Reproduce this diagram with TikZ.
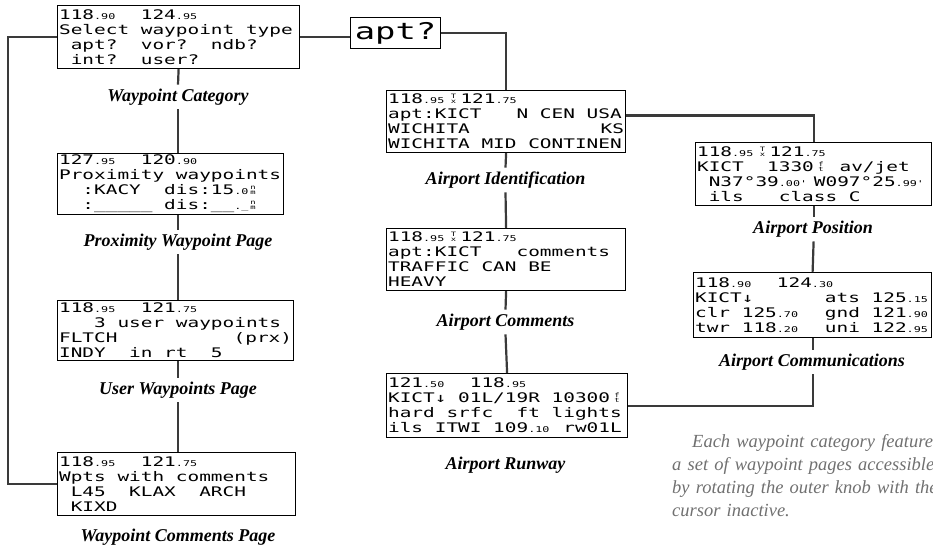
\documentclass[tikz,border=0pt]{standalone}
\usepackage{fontspec}
\setmainfont{Liberation Serif}
\newfontfamily\lcd[FakeStretch=1.47]{DejaVu Sans Mono}
\newlength\cw
\newcommand\lcdf{\lcd\fontsize{13.2}{15}\selectfont\hyphenchar\font=-1 }
\newcommand\lcdbig{\lcd\fontsize{23}{25}\selectfont}
\newcommand\lsm{\fontsize{8}{8}\selectfont}
\newcommand\sm[2][2]{\makebox[#1\cw][l]{\lsm #2}}
\newcommand\stk[2]{\makebox[1.2\cw][c]{\fontsize{6}{6}\selectfont\rlap{\raisebox{5.2pt}{#1}}#2}}
\newcommand\gp[1]{\leavevmode\kern#1\cw}
\definecolor{linec}{HTML}{3A3A3A}
\definecolor{capc}{HTML}{707070}
\begin{document}
\settowidth{\cw}{\lcdf 0}
\begin{tikzpicture}[x=1pt,y=-1pt,
  lcdbox/.style n args={2}{draw=black, line width=1.2pt, inner xsep=1.5pt, inner ysep=1pt,
    anchor=north west, align=left, text width=#1-3pt, minimum width=#1, minimum height=#2,
    font=\lcdf},
  lbl/.style={font=\bfseries\itshape\fontsize{18}{20}\selectfont, inner sep=4pt},
  conn/.style={draw=linec, line width=2.2pt}]
\useasboundingbox (0,0) rectangle (933,553);

% left column
\node[lcdbox={242pt}{63pt}] (wc) at (57,5) {118\sm{.90}\gp{2}124\sm{.95}\\
Select\gp{1}waypoint\gp{1}type\\
\gp{1}apt?\gp{2}vor?\gp{2}ndb?\\
\gp{1}int?\gp{2}user?};
\node[lbl] (wcl) at (178,97) {Waypoint Category};

\node[lcdbox={226pt}{61pt}] (prox) at (57,153) {127\sm{.95}\gp{2}120\sm{.90}\\
Proximity\gp{1}waypoints\\
\gp{2}:KACY\gp{2}dis:15\sm[1]{.0}\stk{n}{m}\\
\gp{2}:\_\_\_\_\_\gp{1}dis:\_\_\sm[1]{.\_}\stk{n}{m}};
\node[lbl] (proxl) at (178,242) {Proximity Waypoint Page};

\node[lcdbox={236pt}{60pt}] (user) at (57,300) {118\sm{.95}\gp{2}121\sm{.75}\\
\gp{3}3\gp{1}user\gp{1}waypoints\\
FLTCH\hfill(prx)\\
INDY\gp{2}in\gp{1}rt\gp{2}5};
\node[lbl] (userl) at (178,390) {User Waypoints Page};

\node[lcdbox={238pt}{63pt}] (wcp) at (57,452) {118\sm{.95}\gp{2}121\sm{.75}\\
Wpts\gp{1}with\gp{1}comments\\
\gp{1}L45\gp{2}KLAX\gp{2}ARCH\\
\gp{1}KIXD};
\node[lbl] (wcpl) at (178,537) {Waypoint Comments Page};

% apt? box
\node[draw=black, line width=1.2pt, inner xsep=2pt, inner ysep=0pt, minimum width=90pt,
  minimum height=31pt, anchor=west, font=\lcdbig] (apt) at (350,33) {apt?};

% middle column
\node[lcdbox={239pt}{62pt}] (aid) at (386,90) {118\sm{.95}\stk{T}{x}121\sm{.75}\\
apt:KICT\gp{3}N\gp{1}CEN\gp{1}USA\\
WICHITA\hfill KS\\
WICHITA\gp{1}MID\gp{1}CONTINEN};
\node[lbl] (aidl) at (505.5,180) {Airport Identification};

\node[lcdbox={239pt}{62pt}] (acm) at (386,228) {118\sm{.95}\stk{T}{x}121\sm{.75}\\
apt:KICT\gp{3}comments\\
TRAFFIC\gp{1}CAN\gp{1}BE\\
HEAVY};
\node[lbl] (acml) at (505.5,322) {Airport Comments};

\node[lcdbox={241pt}{64pt}] (arw) at (386,373) {121\sm{.50}\gp{2}118\sm{.95}\\
KICT↓\gp{1}01L/19R\gp{1}10300\stk{f}{t}\\
hard\gp{1}srfc\gp{2}ft\gp{1}lights\\
ils\gp{1}ITWI\gp{1}109\sm{.10}\gp{1}rw01L};
\node[lbl] (arwl) at (505.5,465) {Airport Runway};

% right column
\node[lcdbox={236pt}{63pt}] (apos) at (695,142) {118\sm{.95}\stk{T}{x}121\sm{.75}\\
KICT\gp{2}1330\stk{f}{t}\gp{1}av/jet\\
\gp{1}N37°39\sm{.00'}\gp{1}W097°25\sm{.99'}\\
\gp{1}ils\gp{3}class\gp{1}C};
\node[lbl] (aposl) at (813,229) {Airport Position};

\node[lcdbox={238pt}{65pt}] (acomm) at (693,272) {118\sm{.90}\gp{2}124\sm{.30}\\
KICT↓\hfill ats\gp{1}125\sm{.15}\\
clr\gp{1}125\sm{.70}\hfill gnd\gp{1}121\sm{.90}\\
twr\gp{1}118\sm{.20}\hfill uni\gp{1}122\sm{.95}};
\node[lbl] (acomml) at (812,362) {Airport Communications};

% caption
\node[anchor=north west, inner sep=0pt, align=left, text width=330pt, text=capc,
  font=\itshape\fontsize{18.5}{23}\selectfont] (cap) at (672,434)
  {\hspace*{20pt}Each waypoint category features\\
  a set of waypoint pages accessible\\
  by rotating the outer knob with the\\
  cursor inactive.};

% connectors
\coordinate (lx) at (8,0);
\path[conn] (wc.west) -- (wc.west -| lx) |- (wcp.west);
\path[conn] (wc.east) -- (wc.east -| apt.west);
\path[conn] (apt.east) -| (aid.north);
\path[conn] (wc.south) -- (wcl.north);
\path[conn] (wcl.south) -- (prox.north -| wcl.south);
\path[conn] (prox.south -| proxl.north) -- (proxl.north);
\path[conn] (proxl.south) -- (user.north -| proxl.south);
\path[conn] (user.south -| userl.north) -- (userl.north);
\path[conn] (userl.south) -- (wcp.north -| userl.south);
\path[conn] (aid.south) -- (aidl.north);
\path[conn] (aidl.south) -- (acm.north);
\path[conn] (acm.south) -- (acml.north);
\path[conn] (acml.south) -- (arw.north);
\path[conn] ([yshift=6pt]aid.east) -| (apos.north);
\path[conn] (apos.south) -- (apos.south |- aposl.north);
\path[conn] (aposl.south -| apos.south) -- (acomm.north);
\path[conn] (acomm.south) -- (acomm.south |- acomml.north);
\path[conn] (acomml.south -| acomm.south) |- (arw.east);
\end{tikzpicture}
\end{document}
